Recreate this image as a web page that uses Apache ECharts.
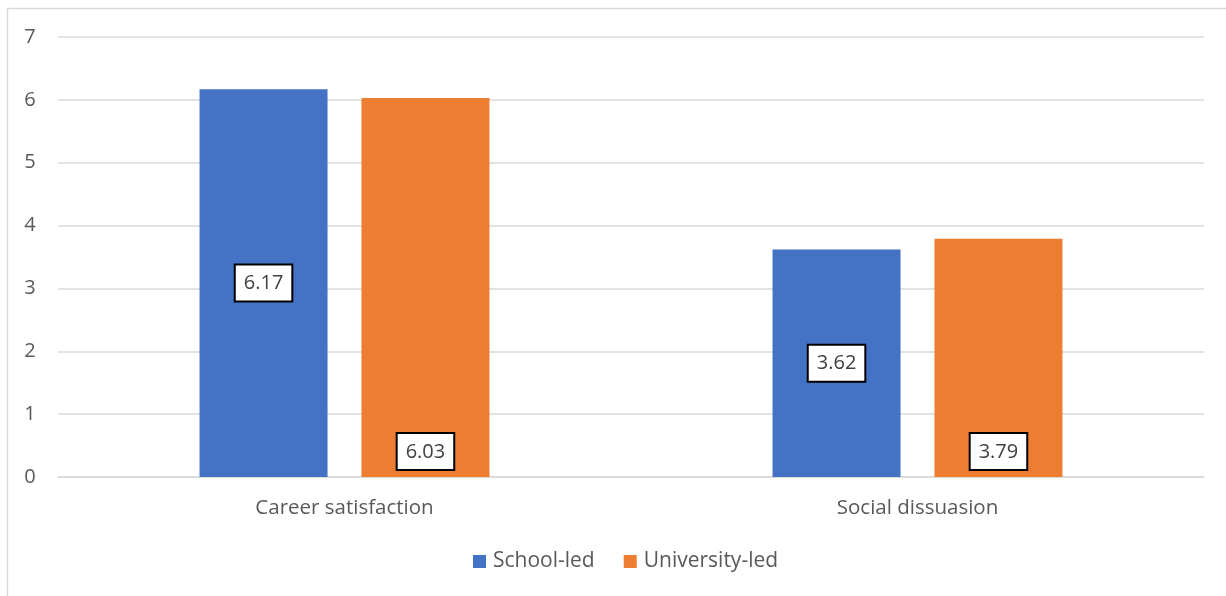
<!DOCTYPE html>
<html>
<head>
<meta charset="utf-8">
<script src="https://cdn.jsdelivr.net/npm/echarts@6/dist/echarts.min.js"></script>
<style>
  html, body { margin: 0; padding: 0; background: #fff; }
  #chart { width: 1226px; height: 596px; }
</style>
</head>
<body>
<div id="chart"></div>
<script>
// Mean scores by delivery route
const categories = ['Career satisfaction', 'Social dissuasion'];
const schoolLed = [6.17, 3.62];
const universityLed = [6.03, 3.79];
const yTicks = [0, 1, 2, 3, 4, 5, 6, 7];

const FONT = '"Open Sans", "Liberation Sans", sans-serif';
const TEXT = '#595959';

const boxLabel = (position, distance) => ({
  show: true,
  position: position,
  distance: distance,
  formatter: p => p.value.toFixed(2),
  fontFamily: FONT,
  fontSize: 20,
  lineHeight: 24,
  color: '#404040',
  backgroundColor: '#fff',
  borderColor: '#000',
  borderWidth: 2,
  padding: [6, 8, 5, 8]
});

const chart = echarts.init(document.getElementById('chart'), null, { renderer: 'canvas' });
chart.setOption({
  backgroundColor: '#fff',
  animation: false,
  graphic: [{
    type: 'rect',
    shape: { x: 7.5, y: 8.5, width: 1240, height: 620 },
    style: { fill: 'none', stroke: '#d9d9d9', lineWidth: 1.5 },
    silent: true
  }],
  grid: { left: 58, right: 22, top: 37, bottom: 119 },
  legend: {
    bottom: 19,
    left: 468,
    itemWidth: 13,
    itemHeight: 13,
    itemGap: 29,
    icon: 'rect',
    textStyle: { fontFamily: FONT, fontSize: 21, color: TEXT, padding: [0, 0, 0, 2] },
    data: ['School-led', 'University-led']
  },
  xAxis: {
    type: 'category',
    data: categories,
    axisLine: { show: true, lineStyle: { color: '#d9d9d9', width: 1.5 } },
    axisTick: { show: false },
    axisLabel: { fontFamily: FONT, fontSize: 20.5, color: TEXT, margin: 21 }
  },
  yAxis: {
    type: 'value',
    min: yTicks[0],
    max: yTicks[yTicks.length - 1],
    interval: 1,
    axisLine: { show: false },
    axisTick: { show: false },
    splitLine: { lineStyle: { color: '#d9d9d9', width: 1.5 } },
    axisLabel: { fontFamily: FONT, fontSize: 20, color: TEXT, margin: 28, align: 'center' }
  },
  series: [
    {
      name: 'School-led',
      type: 'bar',
      data: schoolLed,
      barWidth: 128,
      barGap: '26.5%',
      itemStyle: { color: '#4472c4' },
      label: boxLabel('inside', 0)
    },
    {
      name: 'University-led',
      type: 'bar',
      data: universityLed,
      barWidth: 128,
      itemStyle: { color: '#ed7d31' },
      label: boxLabel('insideBottom', 8)
    }
  ]
});
</script>
</body>
</html>
